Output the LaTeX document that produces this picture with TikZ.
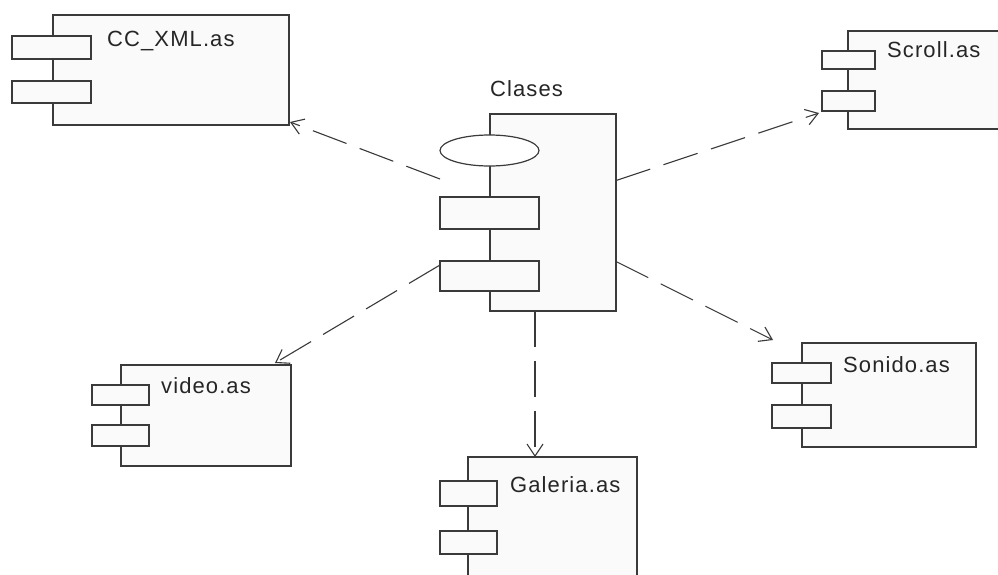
\documentclass[tikz,border=0pt]{standalone}
\usepackage{fontspec}
\setmainfont{Liberation Sans}[LetterSpace=5]
\usetikzlibrary{arrows.meta,calc,shapes.geometric}
\definecolor{umlline}{HTML}{3A3A3A}
\definecolor{umlfill}{HTML}{FAFAFA}
\tikzset{
  body/.style={draw=umlline, fill=umlfill, line width=1.4pt, inner sep=0pt, outer sep=0pt, rectangle},
  tab/.style={draw=umlline, fill=umlfill, line width=1.4pt, inner sep=0pt, outer sep=0pt, rectangle},
  iface/.style={draw=umlline, fill=white, line width=1.2pt, inner sep=0pt, outer sep=0pt, ellipse},
  lbl/.style={anchor=base west, inner sep=0pt, font=\fontsize{22}{25}\selectfont, text=black!85},
  dep/.style={draw=umlline, line width=1.1pt, dash pattern=on 36pt off 14pt,
              -{Straight Barb[length=12pt,width=16pt,line width=1.1pt]}}
}
\begin{document}
\begin{tikzpicture}[x=1pt,y=-1pt]
\useasboundingbox (0,0) rectangle (998,574);
\clip (0,0) rectangle (998,574);
\fill[white] (0,0) rectangle (998,574);

% CC_XML.as
\node[body, minimum width=236pt, minimum height=110pt] (ccbody) at (171,70) {};
\node[tab, minimum width=79pt, minimum height=23pt] (cctab1) at (51.5,47.5) {};
\node[tab, minimum width=79pt, minimum height=22pt] (cctab2) at (51.5,92) {};
\node[lbl] (cclbl) at (107,46) {CC\_XML.as};

% Clases (central component with interface)
\node[body, minimum width=126pt, minimum height=197pt] (clsbody) at (553,212.5) {};
\node[iface, minimum width=99pt, minimum height=31pt] (clsif) at (489.5,150.5) {};
\node[tab, minimum width=99pt, minimum height=32pt] (clstab1) at (489.5,213) {};
\node[tab, minimum width=99pt, minimum height=30pt] (clstab2) at (489.5,276) {};
\node[lbl] (clslbl) at (490,96) {Clases};

% Scroll.as
\node[body, minimum width=170pt, minimum height=98pt] (scrbody) at (933,80) {};
\node[tab, minimum width=53pt, minimum height=18pt] (scrtab1) at (848.5,60) {};
\node[tab, minimum width=53pt, minimum height=20pt] (scrtab2) at (848.5,101) {};
\node[lbl] (scrlbl) at (887,57) {Scroll.as};

% video.as
\node[body, minimum width=170pt, minimum height=101pt] (vidbody) at (206,415.5) {};
\node[tab, minimum width=57pt, minimum height=20pt] (vidtab1) at (120.5,395) {};
\node[tab, minimum width=57pt, minimum height=21pt] (vidtab2) at (120.5,435.5) {};
\node[lbl] (vidlbl) at (161,393) {video.as};

% Galeria.as
\node[body, minimum width=169pt, minimum height=143pt] (galbody) at (552.5,528.5) {};
\node[tab, minimum width=57pt, minimum height=25pt] (galtab1) at (468.5,493.5) {};
\node[tab, minimum width=57pt, minimum height=23pt] (galtab2) at (468.5,542.5) {};
\node[lbl] (gallbl) at (510,492) {Galeria.as};

% Sonido.as
\node[body, minimum width=174pt, minimum height=104pt] (sonbody) at (889,395) {};
\node[tab, minimum width=59pt, minimum height=20pt] (sontab1) at (801.5,373) {};
\node[tab, minimum width=59pt, minimum height=23pt] (sontab2) at (801.5,416.5) {};
\node[lbl] (sonlbl) at (843,372) {Sonido.as};

% dependency end points on the component outlines
\coordinate (d1s) at ($(clstab1.north west)+(0,-18)$);
\coordinate (d1e) at ($(ccbody.south east)+(1,-3)$);
\coordinate (d2s) at ($(clsbody.east)+(0,-32)$);
\coordinate (d2e) at ($(scrtab2.south west)+(-3,2)$);
\coordinate (d3s) at ($(clstab2.north west)+(0,4)$);
\coordinate (d3e) at ($(vidbody.north east)+(-16,-2)$);
\coordinate (d4s) at ($(clsbody.east)+(0,49)$);
\coordinate (d4e) at ($(sontab1.north west)+(1,-23)$);
\coordinate (d5s) at (clsbody.south -| clstab1.east);
\coordinate (d5e) at (galbody.north -| clstab1.east);

% dependencies
\draw[dep] (d1s) -- (d1e);
\draw[dep] (d2s) -- (d2e);
\draw[dep] (d3s) -- (d3e);
\draw[dep] (d4s) -- (d4e);
\draw[dep] ($(d5s)+(-4,0)$) -- ($(d5e)+(-4,0)$);
\end{tikzpicture}
\end{document}
